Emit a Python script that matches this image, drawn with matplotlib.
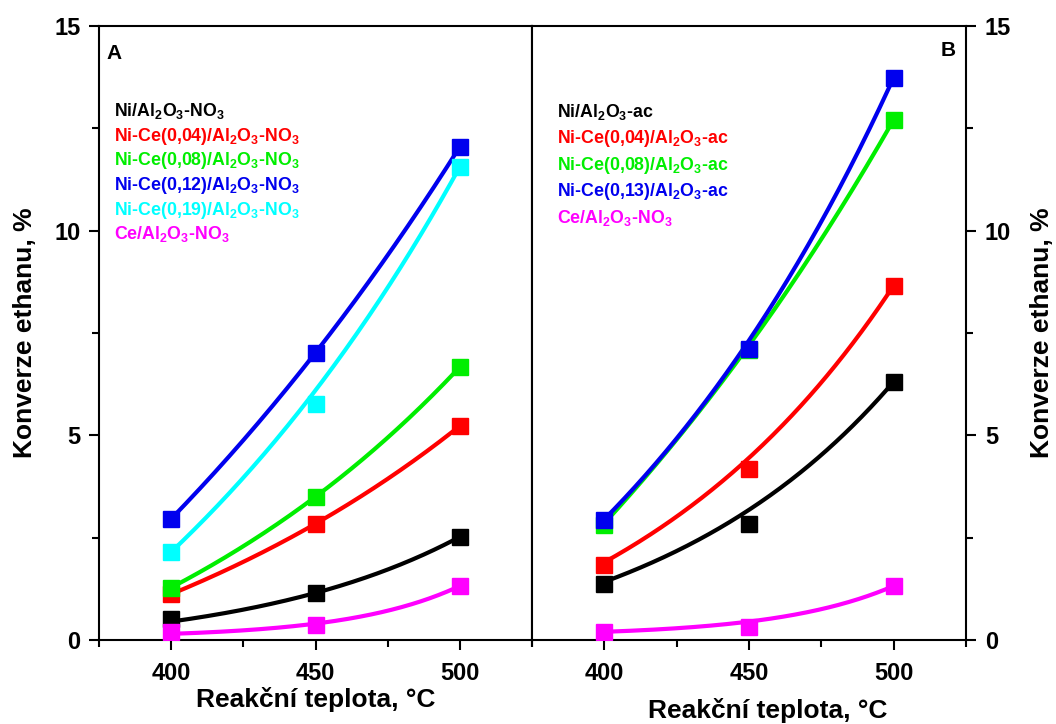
import numpy as np
import matplotlib
matplotlib.use("Agg")
import matplotlib.pyplot as plt
from matplotlib.ticker import MultipleLocator

plt.rcParams['font.family'] = ['Liberation Sans', 'DejaVu Sans']
plt.rcParams['font.weight'] = 'bold'
plt.rcParams['mathtext.fontset'] = 'custom'
plt.rcParams['mathtext.rm'] = 'Liberation Sans:bold'
plt.rcParams['mathtext.it'] = 'Liberation Sans:bold'
plt.rcParams['mathtext.bf'] = 'Liberation Sans:bold'
plt.rcParams['mathtext.default'] = 'rm'

# ---- data ----
temps = [400, 450, 500]

labels_A = [r'Ni/Al$_2$O$_3$-NO$_3$', r'Ni-Ce(0,04)/Al$_2$O$_3$-NO$_3$',
            r'Ni-Ce(0,08)/Al$_2$O$_3$-NO$_3$', r'Ni-Ce(0,12)/Al$_2$O$_3$-NO$_3$',
            r'Ni-Ce(0,19)/Al$_2$O$_3$-NO$_3$', r'Ce/Al$_2$O$_3$-NO$_3$']
colors_A = ['#000000', '#FF0000', '#00EE00', '#0000EE', '#00FFFF', '#FF00FF']
A_ni = [0.52, 1.15, 2.52]
A_ce004 = [1.12, 2.84, 5.23]
A_ce008 = [1.28, 3.50, 6.67]
A_ce012 = [2.96, 7.02, 12.05]
A_ce019 = [2.15, 5.77, 11.56]
A_ce = [0.20, 0.36, 1.32]
# trend-curve values (as drawn) at 400/450/500
A_fit_ni = [0.45, 1.15, 2.52]
A_fit_ce004 = [1.12, 2.84, 5.23]
A_fit_ce008 = [1.28, 3.50, 6.67]
A_fit_ce012 = [2.96, 7.02, 12.05]
A_fit_ce019 = [2.15, 6.10, 11.56]
A_fit_ce = [0.15, 0.40, 1.32]

labels_B = [r'Ni/Al$_2$O$_3$-ac', r'Ni-Ce(0,04)/Al$_2$O$_3$-ac',
            r'Ni-Ce(0,08)/Al$_2$O$_3$-ac', r'Ni-Ce(0,13)/Al$_2$O$_3$-ac',
            r'Ce/Al$_2$O$_3$-NO$_3$']
colors_B = ['#000000', '#FF0000', '#00EE00', '#0000EE', '#FF00FF']
B_ni = [1.36, 2.84, 6.31]
B_ce004 = [1.83, 4.18, 8.66]
B_ce008 = [2.82, 7.09, 12.71]
B_ce013 = [2.93, 7.11, 13.74]
B_ce = [0.20, 0.32, 1.32]
B_fit_ni = [1.42, 3.18, 6.31]
B_fit_ce004 = [1.90, 4.45, 8.66]
B_fit_ce008 = [2.85, 7.20, 12.71]
B_fit_ce013 = [2.95, 7.32, 13.74]
B_fit_ce = [0.20, 0.45, 1.32]

series_A = [A_ni, A_ce004, A_ce008, A_ce012, A_ce019, A_ce]
fits_A = [A_fit_ni, A_fit_ce004, A_fit_ce008, A_fit_ce012, A_fit_ce019, A_fit_ce]
series_B = [B_ni, B_ce004, B_ce008, B_ce013, B_ce]
fits_B = [B_fit_ni, B_fit_ce004, B_fit_ce008, B_fit_ce013, B_fit_ce]

W, H = 1056, 724
fig = plt.figure(figsize=(W / 100, H / 100), dpi=100)
axA = fig.add_axes([99 / W, 1 - 640 / H, 433 / W, 614 / H])
axB = fig.add_axes([532 / W, 1 - 640 / H, 434 / W, 614 / H])

xs = np.linspace(400, 500, 200)


def growth_curve(fv, x):
    # y = a + b*exp(c*x) through the three drawn trend values
    y1, y2, y3 = fv
    r = (y3 - y2) / (y2 - y1)
    t = (x - temps[0]) / (temps[1] - temps[0])
    if abs(r - 1) < 1e-9:
        return y1 + (y2 - y1) * t
    return y1 + (y2 - y1) * (r ** t - 1) / (r - 1)


def draw(ax, series, fits, colors):
    for vals, fv, c in zip(series, fits, colors):
        ax.plot(xs, growth_curve(fv, xs), color=c, lw=3.0, zorder=2,
                solid_capstyle='butt')
    for vals, c in zip(series, colors):
        ax.plot(temps, vals, ls='none', marker='s', ms=11.5, color=c,
                mec=c, zorder=3)


draw(axA, series_A, fits_A, colors_A)
draw(axB, series_B, fits_B, colors_B)

for ax in (axA, axB):
    ax.set_xlim(375, 525)
    ax.set_ylim(0, 15)
    ax.xaxis.set_major_locator(MultipleLocator(50))
    ax.xaxis.set_minor_locator(MultipleLocator(25))
    ax.yaxis.set_major_locator(MultipleLocator(5))
    ax.yaxis.set_minor_locator(MultipleLocator(2.5))
    for s in ax.spines.values():
        s.set_linewidth(1.5)
    ax.tick_params(which='major', length=7.5, width=1.5, labelsize=17, direction='out')
    ax.tick_params(which='minor', length=5, width=1.5, direction='out')
    ax.tick_params(axis='x', top=False, pad=8)
    ax.set_xlabel('Reakční teplota, °C', fontsize=19, fontweight='bold')
    ax.set_ylabel('Konverze ethanu, %', fontsize=19, fontweight='bold')
    for lab in ax.get_xticklabels() + ax.get_yticklabels():
        lab.set_fontweight('bold')

axA.tick_params(axis='y', left=True, right=False, labelleft=True, labelright=False, pad=6)
axB.tick_params(axis='y', which='both', left=False, right=True, labelleft=False,
                labelright=True, pad=6)
axB.yaxis.set_label_position('right')
axA.yaxis.set_label_coords(-0.143, 0.5)
axB.yaxis.set_label_coords(1.147, 0.5)
axB.yaxis.label.set_rotation(90)
axA.xaxis.set_label_coords(0.5, -0.077)
axB.xaxis.set_label_coords(0.544, -0.095)

axA.text(0.018, 0.955, 'A', transform=axA.transAxes, fontsize=15,
         fontweight='bold', ha='left', va='center')
axB.text(0.977, 0.960, 'B', transform=axB.transAxes, fontsize=15,
         fontweight='bold', ha='right', va='center')

for i, (lab, c) in enumerate(zip(labels_A, colors_A)):
    yb = 116 + 24.7 * i
    axA.text(0.035, (640 - yb) / 614, lab, transform=axA.transAxes,
             fontsize=12.8, fontweight='bold', color=c, ha='left', va='baseline')
for i, (lab, c) in enumerate(zip(labels_B, colors_B)):
    yb = 117 + 26.4 * i
    axB.text(0.058, (640 - yb) / 614, lab, transform=axB.transAxes,
             fontsize=12.8, fontweight='bold', color=c, ha='left', va='baseline')

fig.savefig('out.png', dpi=100)
